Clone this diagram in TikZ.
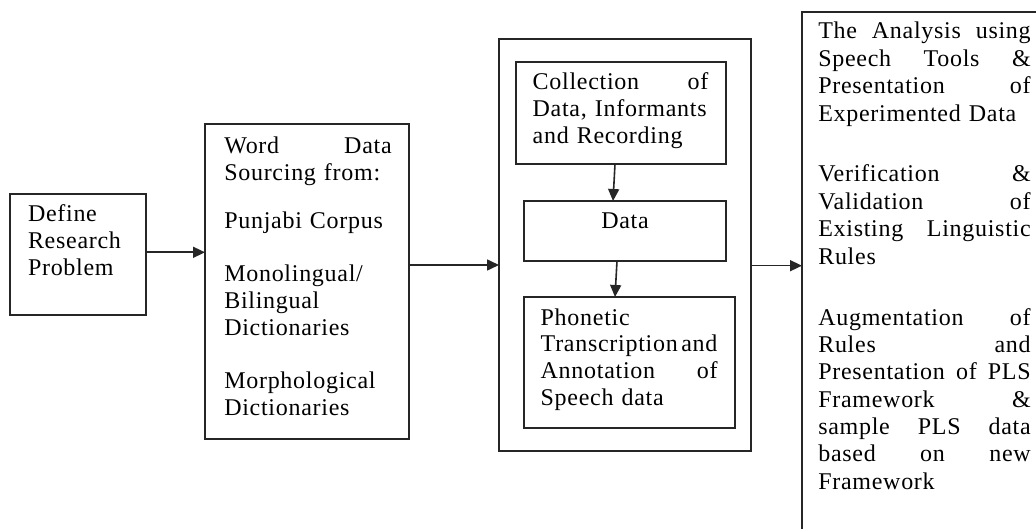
\documentclass[tikz,border=0pt]{standalone}
\usepackage{fontspec}
\setmainfont{Liberation Serif}[LetterSpace=3.0]
\usetikzlibrary{arrows.meta}
\tikzset{
  frame/.style={draw=black!85, line width=1.8pt, inner sep=0pt, outer sep=0pt, anchor=north west},
  para/.style={anchor=base west, inner sep=0pt, outer sep=0pt, align=left,
    font=\fontsize{24}{26.8}\selectfont},
  widepara/.style={para, font=\fontsize{24}{27.4}\selectfont},
  link/.style={draw=black!85, line width=1.6pt, -{Triangle[length=12pt,width=11pt]}},
}
\begin{document}
\begin{tikzpicture}[x=1pt,y=-1pt]
\useasboundingbox (0,0) rectangle (1036,529);
\clip (0,0) rectangle (1036,529);
\fill[white] (0,0) rectangle (1036,529);

% frames
\node[frame, minimum width=136pt, minimum height=121pt] (define) at (10,194) {};
\node[frame, minimum width=204pt, minimum height=315pt] (source) at (205,124) {};
\node[frame, minimum width=252pt, minimum height=412pt] (method) at (499,39) {};
\node[frame, minimum width=210pt, minimum height=102pt] (collect) at (516,62) {};
\node[frame, minimum width=202pt, minimum height=60pt] (data) at (524,201) {};
\node[frame, minimum width=211pt, minimum height=131pt] (phon) at (524,297) {};
\node[frame, minimum width=300pt, minimum height=600pt] (result) at (802,12) {};

% texts
\node[para, text width=110pt] (tdefine) at (28,221.7) {Define\\Research\\Problem};

\node[para, text width=167.4pt] (ts1) at (224.3,153.3) {Word\hfill Data\\Sourcing from:};
\node[para, text width=167.4pt] (ts2) at (224.3,228.3) {Punjabi Corpus};
\node[para, text width=167.4pt] (ts3) at (224.3,281.7) {Monolingual/\\Bilingual\\Dictionaries};
\node[para, text width=167.4pt] (ts4) at (224.3,388.3) {Morphological\\Dictionaries};

\node[para, text width=175.6pt] (tcollect) at (532.7,90) {Collection\hfill of\\Data, Informants\\and Recording};
\node[para, anchor=base, align=center] (tdata) at (625,228.3) {Data};
\node[para, text width=177pt] (tphon) at (540.7,325)
  {Phonetic\\\mbox{Transcription\hspace{3.5pt}and}\\Annotation\hfill of\\Speech data};

\node[widepara, text width=212.4pt] (tr1) at (818.3,39)
  {The\hfill Analysis\hfill using\\Speech\hfill Tools\hfill \&\\Presentation\hfill of\\Experimented Data};
\node[widepara, text width=212.4pt] (tr2) at (818.3,182)
  {Verification\hfill \&\\Validation\hfill of\\Existing\hfill Linguistic\\Rules};
\node[widepara, text width=212.4pt] (tr3) at (818.3,325)
  {Augmentation\hfill of\\Rules\hfill and\\Presentation\hfill of\hfill PLS\\Framework\hfill \&\\sample\hfill PLS\hfill data\\based\hfill on\hfill new\\Framework};

% connectors
\coordinate (r1) at (0,252.3);
\coordinate (r2) at (0,265);
\coordinate (r3) at (0,265.7);
\draw[link] (define.east |- r1) -- (source.west |- r1);
\draw[link] (source.east |- r2) -- (method.west |- r2);
\draw[link] (method.east |- r3) -- (result.west |- r3);
\coordinate (c1) at (615,0);
\coordinate (c2) at (613,0);
\coordinate (c3) at (617,0);
\coordinate (c4) at (615,0);
\draw[link] (collect.south -| c1) -- (data.north -| c2);
\draw[link] (data.south -| c3) -- (phon.north -| c4);
\end{tikzpicture}
\end{document}
